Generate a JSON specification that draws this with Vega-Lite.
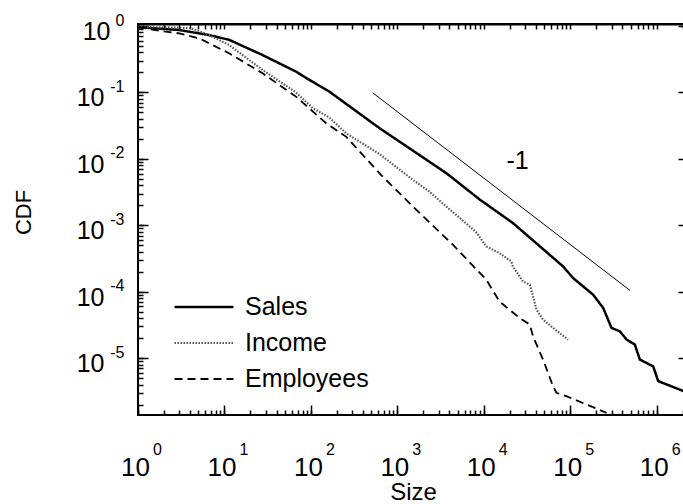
{
  "$schema": "https://vega.github.io/schema/vega-lite/v6.json",
  "width": 550,
  "height": 391,
  "autosize": "none",
  "padding": {"left": 138, "top": 24, "right": 0, "bottom": 89},
  "background": "white",
  "config": {
    "font": "Liberation Sans",
    "view": {"stroke": "black", "strokeWidth": 2},
    "axis": {"grid": false, "domain": false, "tickColor": "black", "tickWidth": 1.5, "labelColor": "black", "titleColor": "black", "labelFont": "Liberation Sans", "titleFont": "Liberation Sans", "titleFontWeight": "normal", "labelOverlap": false, "labelFlush": false, "labelBound": false}
  },
  "datasets": {
    "curves": [
      {"size": 1, "cdf": 0.96, "series": "Sales"},
      {"size": 3.0, "cdf": 0.87, "series": "Sales"},
      {"size": 6.65, "cdf": 0.73, "series": "Sales"},
      {"size": 11.3, "cdf": 0.62, "series": "Sales"},
      {"size": 27.4, "cdf": 0.367, "series": "Sales"},
      {"size": 67.6, "cdf": 0.205, "series": "Sales"},
      {"size": 91.6, "cdf": 0.16, "series": "Sales"},
      {"size": 163, "cdf": 0.103, "series": "Sales"},
      {"size": 621, "cdf": 0.029, "series": "Sales"},
      {"size": 3676, "cdf": 0.0061, "series": "Sales"},
      {"size": 8930, "cdf": 0.00245, "series": "Sales"},
      {"size": 21700, "cdf": 0.00108, "series": "Sales"},
      {"size": 82600, "cdf": 0.00024, "series": "Sales"},
      {"size": 108000, "cdf": 0.00016, "series": "Sales"},
      {"size": 184000, "cdf": 0.00009, "series": "Sales"},
      {"size": 240000, "cdf": 0.000057, "series": "Sales"},
      {"size": 300000, "cdf": 0.0000285, "series": "Sales"},
      {"size": 374000, "cdf": 0.0000253, "series": "Sales"},
      {"size": 448000, "cdf": 0.000019, "series": "Sales"},
      {"size": 558000, "cdf": 0.000016, "series": "Sales"},
      {"size": 638000, "cdf": 0.0000095, "series": "Sales"},
      {"size": 910000, "cdf": 0.0000075, "series": "Sales"},
      {"size": 1040000, "cdf": 0.0000045, "series": "Sales"},
      {"size": 2300000, "cdf": 0.000003, "series": "Sales"},
      {"size": 1, "cdf": 0.96, "series": "Income"},
      {"size": 2.17, "cdf": 0.955, "series": "Income"},
      {"size": 4.1, "cdf": 0.93, "series": "Income"},
      {"size": 6.65, "cdf": 0.73, "series": "Income"},
      {"size": 11.3, "cdf": 0.518, "series": "Income"},
      {"size": 27.6, "cdf": 0.218, "series": "Income"},
      {"size": 67.2, "cdf": 0.1, "series": "Income"},
      {"size": 105, "cdf": 0.058, "series": "Income"},
      {"size": 163, "cdf": 0.042, "series": "Income"},
      {"size": 255, "cdf": 0.0243, "series": "Income"},
      {"size": 621, "cdf": 0.0118, "series": "Income"},
      {"size": 1510, "cdf": 0.00483, "series": "Income"},
      {"size": 2355, "cdf": 0.0032, "series": "Income"},
      {"size": 3675, "cdf": 0.00192, "series": "Income"},
      {"size": 6840, "cdf": 0.00096, "series": "Income"},
      {"size": 8190, "cdf": 0.00078, "series": "Income"},
      {"size": 10700, "cdf": 0.00048, "series": "Income"},
      {"size": 15200, "cdf": 0.00038, "series": "Income"},
      {"size": 20800, "cdf": 0.000286, "series": "Income"},
      {"size": 21700, "cdf": 0.000238, "series": "Income"},
      {"size": 28400, "cdf": 0.000143, "series": "Income"},
      {"size": 34000, "cdf": 0.000127, "series": "Income"},
      {"size": 37100, "cdf": 0.000085, "series": "Income"},
      {"size": 40600, "cdf": 0.0000537, "series": "Income"},
      {"size": 48400, "cdf": 0.000038, "series": "Income"},
      {"size": 63200, "cdf": 0.0000285, "series": "Income"},
      {"size": 94000, "cdf": 0.000019, "series": "Income"},
      {"size": 1, "cdf": 0.96, "series": "Employees"},
      {"size": 2.09, "cdf": 0.82, "series": "Employees"},
      {"size": 2.99, "cdf": 0.777, "series": "Employees"},
      {"size": 5.09, "cdf": 0.653, "series": "Employees"},
      {"size": 11.3, "cdf": 0.389, "series": "Employees"},
      {"size": 27.6, "cdf": 0.194, "series": "Employees"},
      {"size": 67.2, "cdf": 0.0865, "series": "Employees"},
      {"size": 150, "cdf": 0.0344, "series": "Employees"},
      {"size": 255, "cdf": 0.0216, "series": "Employees"},
      {"size": 650, "cdf": 0.0057, "series": "Employees"},
      {"size": 1510, "cdf": 0.00192, "series": "Employees"},
      {"size": 4385, "cdf": 0.00051, "series": "Employees"},
      {"size": 10700, "cdf": 0.000151, "series": "Employees"},
      {"size": 15200, "cdf": 0.000071, "series": "Employees"},
      {"size": 26000, "cdf": 0.00004, "series": "Employees"},
      {"size": 34000, "cdf": 0.000032, "series": "Employees"},
      {"size": 37100, "cdf": 0.0000213, "series": "Employees"},
      {"size": 48400, "cdf": 0.0000095, "series": "Employees"},
      {"size": 63200, "cdf": 0.00000377, "series": "Employees"},
      {"size": 69200, "cdf": 0.000003, "series": "Employees"},
      {"size": 90000, "cdf": 0.00000267, "series": "Employees"},
      {"size": 154000, "cdf": 0.000002, "series": "Employees"},
      {"size": 263000, "cdf": 0.0000015, "series": "Employees"}
    ],
    "ref": [
      {"size": 520, "cdf": 0.0985},
      {"size": 490000, "cdf": 0.0001045}
    ],
    "note": [
      {"size": 24600, "cdf": 0.0093, "label": "-1"}
    ]
  },
  "layer": [
    {
      "data": {"name": "curves"},
      "transform": [{"filter": "datum.series != 'Employees'"}],
      "mark": {"type": "line", "clip": true},
      "encoding": {
        "x": {"field": "size", "type": "quantitative",
          "scale": {"type": "log", "domain": [1, 2300000], "nice": false},
          "axis": {"orient": "bottom", "title": "Size", "titleFontSize": 24, "titleY": 94, "titleBaseline": "alphabetic",
            "values": [1, 10, 100, 1000, 10000, 100000, 1000000], "offset": -10, "tickSize": 10,
            "labelExpr": "'10'",
            "labelFontSize": 26, "labelAlign": "center", "labelBaseline": "alphabetic", "labelOffset": -3, "labelPadding": 60}},
        "y": {"field": "cdf", "type": "quantitative",
          "scale": {"type": "log", "domain": [0.00000139, 1.072], "nice": false},
          "axis": {"orient": "left", "title": "CDF", "titleFontSize": 22, "titleX": -118, "titleY": 188, "titleBaseline": "alphabetic", "titleAlign": "center", "titleAngle": 270,
            "values": [1, 0.1, 0.01, 0.001, 0.0001, 0.00001], "offset": -10, "tickSize": 10,
            "labelExpr": "'10'",
            "labelFontSize": 25, "labelAlign": "right", "labelBaseline": "alphabetic", "labelOffset": 13.5,
            "labelPadding": {"condition": {"test": "datum.value == 1", "value": 28}, "value": 34}}},
        "color": {"field": "series", "type": "nominal",
          "scale": {"domain": ["Sales", "Income", "Employees"], "range": ["#000000", "#555555", "#000000"]},
          "legend": {"orient": "none", "legendX": 35, "legendY": 265, "title": null, "symbolType": "stroke", "symbolSize": 3481, "labelFontSize": 25, "labelFont": "Liberation Sans", "labelColor": "black", "labelOffset": 10, "rowPadding": 0, "clipHeight": 36, "padding": 0}},
        "strokeDash": {"field": "series", "type": "nominal",
          "scale": {"domain": ["Sales", "Income", "Employees"], "range": [[1, 0], [1.5, 1.5], [8, 5]]}},
        "strokeWidth": {"field": "series", "type": "nominal",
          "scale": {"domain": ["Sales", "Income", "Employees"], "range": [2.5, 1.8, 2.2]}}
      }
    },
    {
      "data": {"name": "ref"},
      "mark": {"type": "line", "color": "black", "strokeWidth": 1},
      "encoding": {
        "x": {"field": "size", "type": "quantitative",
          "scale": {"type": "log", "domain": [1, 2300000], "nice": false},
          "axis": {"orient": "bottom", "title": null, "offset": -5, "tickSize": 5,
            "labelExpr": "abs(log(datum.value)/LN10 - round(log(datum.value)/LN10)) < 1e-6 ? '' + round(log(datum.value)/LN10) : ''",
            "labelFontSize": 16, "labelAlign": "left", "labelBaseline": "alphabetic", "labelOffset": 14.5, "labelPadding": 39}},
        "y": {"field": "cdf", "type": "quantitative",
          "scale": {"type": "log", "domain": [0.00000139, 1.072], "nice": false},
          "axis": {"orient": "left", "title": null, "offset": -5, "tickSize": 5,
            "labelExpr": "abs(log(datum.value)/LN10 - round(log(datum.value)/LN10)) < 1e-6 ? '' + round(log(datum.value)/LN10) : ''",
            "labelFontSize": 16, "labelAlign": "right", "labelBaseline": "alphabetic", "labelOffset": -1, "labelPadding": 14}}
      }
    },
    {
      "data": {"name": "note"},
      "mark": {"type": "text", "fontSize": 25, "font": "Liberation Sans", "color": "black", "align": "center", "baseline": "middle"},
      "encoding": {
        "x": {"field": "size", "type": "quantitative",
          "scale": {"type": "log", "domain": [1, 2300000], "nice": false},
          "axis": {"orient": "top", "title": null, "labels": false, "ticks": false, "domain": true, "domainColor": "black", "domainWidth": 2}},
        "y": {"field": "cdf", "type": "quantitative",
          "scale": {"type": "log", "domain": [0.00000139, 1.072], "nice": false},
          "axis": {"orient": "right", "title": null, "labels": false, "values": [1, 0.1, 0.01, 0.001, 0.0001, 0.00001], "offset": -10, "tickSize": 10}},
        "text": {"field": "label"}
      }
    },
    {
      "data": {"name": "curves"},
      "transform": [{"filter": "datum.series == 'Employees'"}],
      "mark": {"type": "line", "clip": true},
      "encoding": {
        "x": {"field": "size", "type": "quantitative",
          "scale": {"type": "log", "domain": [1, 2300000], "nice": false},
          "axis": {"orient": "top", "title": null, "labels": false, "offset": -5, "tickSize": 5}},
        "y": {"field": "cdf", "type": "quantitative",
          "scale": {"type": "log", "domain": [0.00000139, 1.072], "nice": false},
          "axis": {"orient": "right", "title": null, "labels": false, "offset": -5, "tickSize": 5}},
        "color": {"field": "series", "type": "nominal",
          "scale": {"domain": ["Sales", "Income", "Employees"], "range": ["#000000", "#555555", "#000000"]}},
        "strokeDash": {"field": "series", "type": "nominal",
          "scale": {"domain": ["Sales", "Income", "Employees"], "range": [[1, 0], [1.5, 1.5], [8, 5]]}},
        "strokeWidth": {"field": "series", "type": "nominal",
          "scale": {"domain": ["Sales", "Income", "Employees"], "range": [2.5, 1.8, 2.2]}}
      }
    }
  ],
  "resolve": {"axis": {"x": "independent", "y": "independent"}}
}
